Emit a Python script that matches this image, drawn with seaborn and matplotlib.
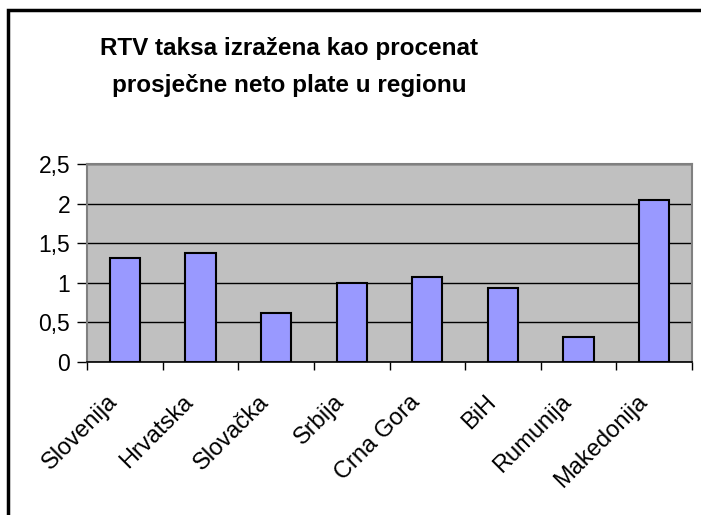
import matplotlib
matplotlib.use("Agg")
import matplotlib.pyplot as plt
import matplotlib.transforms as mtransforms
import seaborn as sns
import pandas as pd
from matplotlib.patches import Rectangle
from matplotlib.ticker import FixedLocator

countries = ["Slovenija", "Hrvatska", "Slovačka", "Srbija", "Crna Gora", "BiH", "Rumunija", "Makedonija"]
values = [1.31, 1.38, 0.62, 1.00, 1.07, 0.93, 0.31, 2.04]
ytick_vals = [0, 0.5, 1, 1.5, 2, 2.5]
ytick_labels = ["0", "0,5", "1", "1,5", "2", "2,5"]
title = "RTV taksa izražena kao procenat\nprosječne neto plate u regionu"

sns.set_theme(style="white")
plt.rcParams['font.family'] = ['Liberation Sans', 'DejaVu Sans']
plt.rcParams['text.color'] = 'black'
plt.rcParams['xtick.color'] = 'black'
plt.rcParams['ytick.color'] = 'black'
plt.rcParams['xtick.labelcolor'] = 'black'
plt.rcParams['ytick.labelcolor'] = 'black'

df = pd.DataFrame({"country": countries, "value": values})

fig = plt.figure(figsize=(7.01, 5.15), dpi=100)
ax = fig.add_axes([87/701, (515-362)/515, (692-87)/701, (362-164)/515])

sns.barplot(data=df, x="country", y="value", ax=ax, color="#9999FF",
            saturation=1, width=0.4, edgecolor="black", linewidth=1.5, zorder=3)

ax.set_facecolor("#C0C0C0")
ax.set_xlim(-0.5, len(countries) - 0.5)
ax.set_ylim(0, 2.5)
ax.set_yticks(ytick_vals)
ax.set_yticklabels(ytick_labels, fontsize=16.5, color="black")
ax.yaxis.grid(True, color="black", linewidth=1.0, zorder=1)
ax.set_axisbelow(True)
ax.tick_params(axis="y", direction="out", length=7, width=1, color="black", left=True, pad=5)

ax.set_xticks(range(len(countries)))
ax.set_xticklabels(countries, fontsize=17, rotation=45, ha="right", rotation_mode="anchor", color="black")
ax.tick_params(axis="x", which="major", length=0, pad=17)
ax.xaxis.set_minor_locator(FixedLocator([i - 0.5 for i in range(len(countries) + 1)]))
ax.tick_params(axis="x", which="minor", direction="out", length=6, width=1, color="black", bottom=True)
offset = mtransforms.ScaledTranslation(-18/100, -5/100, fig.dpi_scale_trans)
for lbl in ax.get_xticklabels():
    lbl.set_transform(lbl.get_transform() + offset)

ax.set_xlabel("")
ax.set_ylabel("")
for s in ["top", "right", "left"]:
    ax.spines[s].set_color("#808080")
    ax.spines[s].set_linewidth(1.5)
ax.spines["bottom"].set_color("black")
ax.spines["bottom"].set_linewidth(1.2)

fig.text(289/701, 1 - 67/515, title, ha="center", va="center", fontsize=17.5,
         fontweight="bold", linespacing=1.8, color="black")

fig.patches.append(Rectangle((8/701, -0.05), 1.0, 1 - 10/515 + 0.05, transform=fig.transFigure,
                             fill=False, edgecolor="black", linewidth=2.5, zorder=10))

fig.savefig("out.png", dpi=100)
